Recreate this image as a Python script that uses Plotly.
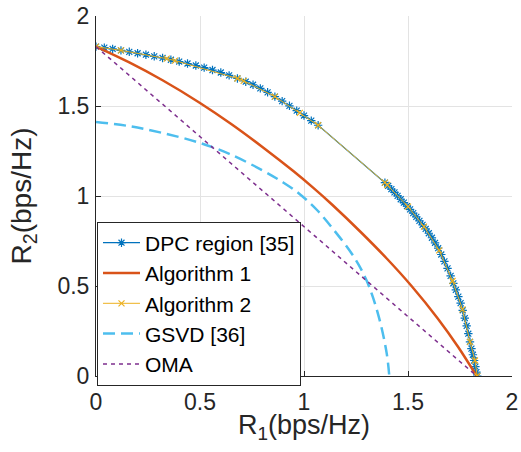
import plotly.graph_objects as go

# DPC region [35]
dpc_x = [0, 0.04, 0.08, 0.12, 0.16, 0.20, 0.24, 0.28, 0.32, 0.36, 0.40, 0.44, 0.48, 0.52, 0.56,
         0.60, 0.64, 0.68, 0.72, 0.755, 0.79, 0.825, 0.86, 0.895, 0.93, 0.965, 1.0, 1.035, 1.068,
         1.389, 1.405, 1.42, 1.435, 1.45, 1.465, 1.48, 1.495, 1.51, 1.525, 1.54, 1.555, 1.57, 1.585,
         1.60, 1.615, 1.63, 1.645, 1.66, 1.675, 1.69, 1.705, 1.718, 1.73, 1.742, 1.753, 1.763, 1.773,
         1.782, 1.79, 1.798, 1.805, 1.812, 1.818, 1.824, 1.829, 1.833]
dpc_y = [1.830, 1.824, 1.817, 1.809, 1.801, 1.793, 1.785, 1.776, 1.767, 1.757, 1.747, 1.736, 1.725,
         1.713, 1.700, 1.686, 1.670, 1.653, 1.635, 1.618, 1.598, 1.576, 1.552, 1.527, 1.501, 1.474,
         1.447, 1.419, 1.393,
         1.074, 1.056, 1.038, 1.020, 1.001, 0.982, 0.963, 0.944, 0.926, 0.905, 0.884, 0.862, 0.840,
         0.817, 0.793, 0.768, 0.740, 0.710, 0.675, 0.637, 0.598, 0.556, 0.515, 0.478, 0.441, 0.405,
         0.365, 0.322, 0.278, 0.235, 0.190, 0.152, 0.118, 0.086, 0.052, 0.022, 0.0]

# Algorithm 1
alg1_x = [0, 0.16, 0.32, 0.5, 0.65, 0.8, 0.95, 1.045, 1.137, 1.2725, 1.40, 1.517, 1.643, 1.742, 1.83]
alg1_y = [1.83, 1.742, 1.643, 1.517, 1.40, 1.2725, 1.137, 1.045, 0.95, 0.80, 0.65, 0.50, 0.32, 0.16, 0.0]

# Algorithm 2
alg2_x = [0, 0.12, 0.34, 0.38, 0.68, 0.71, 0.86, 0.98, 1.068, 1.389, 1.40, 1.5, 1.577, 1.65,
          1.714, 1.762, 1.798, 1.822, 1.833]
alg2_y = [1.83, 1.809, 1.763, 1.752, 1.653, 1.640, 1.552, 1.462, 1.393, 1.074, 1.061, 0.941, 0.83,
          0.698, 0.528, 0.37, 0.19, 0.086, 0.0]

# GSVD [36]
gsvd_x = [0, 0.16, 0.32, 0.5, 0.641, 0.801, 0.9, 0.98, 1.06, 1.141, 1.237, 1.301, 1.357, 1.397, 1.41]
gsvd_y = [1.411, 1.388, 1.350, 1.295, 1.234, 1.142, 1.075, 1.01, 0.925, 0.815, 0.667, 0.53, 0.34, 0.13, 0.0]

# OMA
oma_x = [0, 1.83]
oma_y = [1.83, 0]

names = ["DPC region [35]", "Algorithm 1", "Algorithm 2", "GSVD [36]", "OMA"]
ticks = [0, 0.5, 1, 1.5, 2]
tick_text = ["0", "0.5", "1", "1.5", "2"]
x_title = "R<sub>1</sub>(bps/Hz)"
y_title = "R<sub>2</sub>(bps/Hz)"

FONT = "Liberation Sans, Arial, sans-serif"
fig = go.Figure()
fig.add_trace(go.Scatter(x=dpc_x, y=dpc_y, name=names[0], mode="lines+markers",
                         line=dict(color="#0072BD", width=1.2),
                         marker=dict(symbol="asterisk-open", size=7, color="#0072BD",
                                     line=dict(color="#0072BD", width=1.2))))
fig.add_trace(go.Scatter(x=alg1_x, y=alg1_y, name=names[1], mode="lines",
                         line=dict(color="#D95319", width=2.5, shape="spline", smoothing=1)))
fig.add_trace(go.Scatter(x=alg2_x, y=alg2_y, name=names[2], mode="lines+markers",
                         line=dict(color="#EDB120", width=1),
                         marker=dict(symbol="x-thin-open", size=6, color="#EDB120",
                                     line=dict(color="#EDB120", width=1.2))))
fig.add_trace(go.Scatter(x=gsvd_x, y=gsvd_y, name=names[3], mode="lines",
                         line=dict(color="#4DBEEE", width=2.5, dash="12px,6px", shape="spline",
                                   smoothing=1)))
fig.add_trace(go.Scatter(x=oma_x, y=oma_y, name=names[4], mode="lines",
                         line=dict(color="#7E2F8E", width=1.5, dash="4px,4px")))

axis_common = dict(range=[0, 2], tickvals=ticks, ticktext=tick_text, showgrid=True,
                   gridcolor="#e3e3e3", gridwidth=1, showline=True, linecolor="#262626",
                   linewidth=1, ticks="inside", ticklen=5, tickcolor="#262626",
                   tickfont=dict(family=FONT, size=23, color="#262626"), zeroline=False,
                   mirror=False, fixedrange=True, ticklabeloverflow="allow")
fig.update_xaxes(**axis_common, ticklabelstandoff=5)
fig.update_yaxes(**axis_common, ticklabelstandoff=1,
                 title=dict(text=y_title, font=dict(family=FONT, size=28, color="#262626"),
                            standoff=17))
fig.add_annotation(text=x_title, xref="paper", yref="paper", x=0.5, y=-0.141,
                   xanchor="center", yanchor="middle", showarrow=False,
                   font=dict(family=FONT, size=27, color="#262626"))
fig.update_layout(
    width=521, height=452,
    margin=dict(l=96, r=9, t=16, b=76, autoexpand=False),
    plot_bgcolor="white", paper_bgcolor="white",
    showlegend=True,
    legend=dict(x=0.0024, y=0.429, xanchor="left", yanchor="top",
                bgcolor="white", bordercolor="#262626", borderwidth=1,
                font=dict(family=FONT, size=21, color="#000000"),
                tracegroupgap=0, itemwidth=37),
)
fig.write_html("out.html", config={"displayModeBar": False},
               post_script="document.body.style.margin='0';document.body.style.overflow='hidden';")
